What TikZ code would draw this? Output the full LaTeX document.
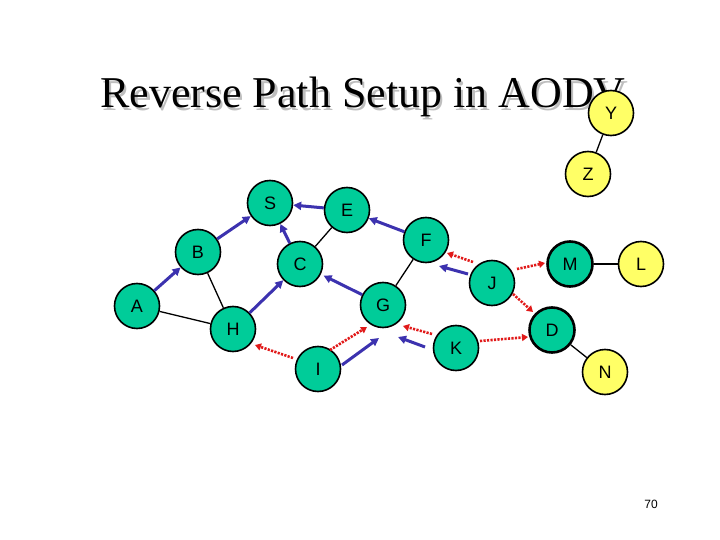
\documentclass[tikz,border=0pt]{standalone}
\usepackage{fontspec}
\setmainfont{Liberation Sans}
\newfontfamily\titlefont{Liberation Serif}
\usetikzlibrary{arrows.meta}
\definecolor{nodegreen}{RGB}{0,204,153}
\definecolor{nodeyellow}{RGB}{255,255,102}
\definecolor{revblue}{RGB}{60,50,175}
\definecolor{reqred}{RGB}{225,25,25}
\definecolor{shadowgray}{RGB}{190,190,190}
\begin{document}
\begin{tikzpicture}[x=1pt,y=-1pt,
  nd/.style={circle,draw=black,line width=1.6pt,minimum size=45pt,inner sep=0pt,
    font=\fontsize{18}{18}\selectfont},
  gn/.style={nd,fill=nodegreen},
  yl/.style={nd,fill=nodeyellow},
  thick border/.style={line width=2.6pt},
  link/.style={black,line width=1.3pt},
  rev/.style={draw=revblue,line width=3pt,-{Triangle[length=8pt,width=8pt]}},
  req/.style={draw=reqred,line width=2.6pt,dash pattern=on 2.2pt off 1.3pt,
    -{Triangle[length=6pt,width=7pt]}},
  titletext/.style={font=\titlefont\fontsize{44}{44}\selectfont,anchor=base west,inner sep=0pt}]
\useasboundingbox (0,0) rectangle (720,540);
\fill[white] (0,0) rectangle (720,540);

% title with shadow
\node[titletext,text=shadowgray] (titleshadow) at (102.5,110.5) {Reverse Path Setup in AODV};
\node[titletext] (title) at (100,108) {Reverse Path Setup in AODV};

% nodes
\node[yl] (Y) at (611,113) {Y};
\node[yl] (Z) at (588,174) {Z};
\node[gn] (S) at (270,203) {S};
\node[gn] (E) at (347,210) {E};
\node[gn] (F) at (426,240) {F};
\node[gn] (B) at (198,252) {B};
\node[gn] (C) at (300,264) {C};
\node[gn] (J) at (492,283) {J};
\node[gn,thick border] (M) at (570,264) {M};
\node[yl] (L) at (641,264) {L};
\node[gn] (A) at (137,306) {A};
\node[gn] (G) at (383,305) {G};
\node[gn] (H) at (233,329) {H};
\node[gn] (K) at (456,348) {K};
\node[gn,thick border] (D) at (552,330) {D};
\node[gn] (I) at (318,369) {I};
\node[yl] (N) at (605,372) {N};

% plain links
\draw[link] (Y) -- (Z);
\draw[link] (A) -- (H);
\draw[link] (B) -- (H);
\draw[link] (E) -- (C);
\draw[link] (F) -- (G);
\draw[link] (M) -- (L);
\draw[link] (D) -- (N);

% reverse path pointers
\draw[rev] (A) -- (B);
\draw[rev] (B) -- (S);
\draw[rev] (E) -- (S);
\draw[rev] (F) -- (E);
\draw[rev] (C) -- (S);
\draw[rev,shorten >=3pt] (G) -- (C);
\draw[rev] (H) -- (C);
\draw[rev] ([shift={(24,-4)}]I.center) -- ([shift={(-4,33)}]G.center);
\draw[rev] ([shift={(-31,-1)}]K.center) -- ([shift={(15,32)}]G.center);
\draw[rev] ([shift={(-24,-9)}]J.center) -- ([shift={(13,26)}]F.center);

% RREQ transmissions
\draw[req] ([shift={(-25,-11)}]I.center) -- ([shift={(22,16)}]H.center);
\draw[req] ([shift={(12,-19)}]I.center) -- ([shift={(-16,22)}]G.center);
\draw[req] ([shift={(-24,-14)}]K.center) -- ([shift={(20,21)}]G.center);
\draw[req] ([shift={(24,-7)}]K.center) -- ([shift={(-24,7)}]D.center);
\draw[req] ([shift={(21,11)}]J.center) -- ([shift={(-19,-18)}]D.center);
\draw[req] ([shift={(-19,-21)}]J.center) -- ([shift={(21,13)}]F.center);
\draw[req] ([shift={(25,-14)}]J.center) -- ([shift={(-25,-1)}]M.center);

% page number
\node[font=\fontsize{12}{12}\selectfont] (pagenum) at (651,504) {70};
\end{tikzpicture}
\end{document}
